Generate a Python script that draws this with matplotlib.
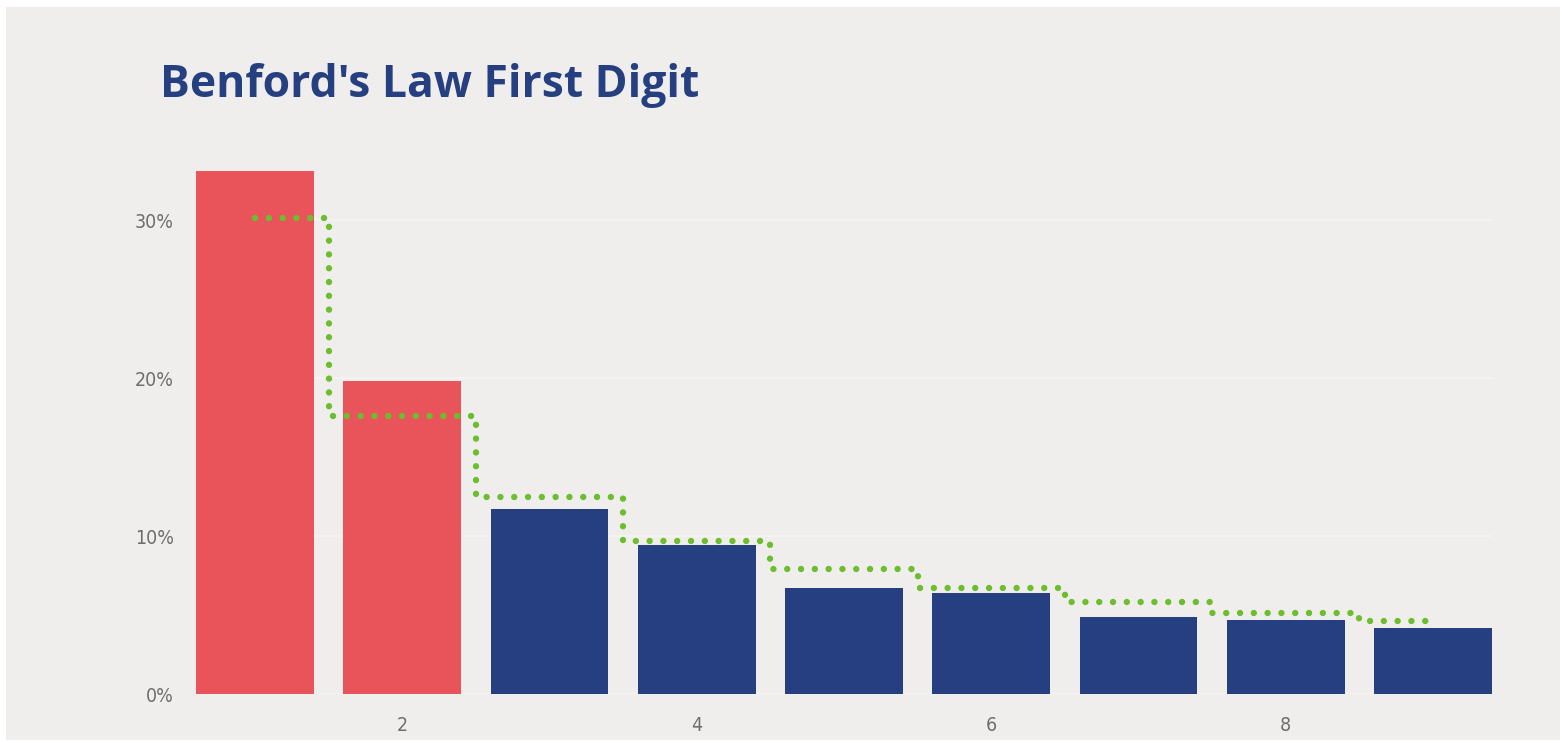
import matplotlib.pyplot as plt
from matplotlib.patches import Rectangle
from matplotlib.ticker import FuncFormatter

# first digit 1..9, observed share (%) and Benford expectation (%)
digits = [1, 2, 3, 4, 5, 6, 7, 8, 9]
observed = [33.1, 19.8, 11.7, 9.4, 6.7, 6.4, 4.9, 4.7, 4.2]
benford = [30.1, 17.6, 12.5, 9.7, 7.9, 6.7, 5.8, 5.1, 4.6]
highlight = [True, True, False, False, False, False, False, False, False]
x_ticks = [2, 4, 6, 8]
y_ticks = [0, 10, 20, 30]

RED = "#E9535A"
NAVY = "#253F80"
GREEN = "#6CBE2E"
BG = "#F0EEED"

W, H = 1560, 742
fig = plt.figure(figsize=(W / 100, H / 100), dpi=100)
fig.patch.set_facecolor("white")
fig.patches.append(Rectangle((6 / W, 2 / H), 1 - 6 / W, 1 - 9 / H,
                             transform=fig.transFigure, facecolor=BG,
                             edgecolor="none", zorder=-10))

# plot area: 0% at y=694px, ~15.8px per percent
ax = fig.add_axes([196 / W, (H - 694) / H, (1492 - 196) / W, 35 * 15.8 / H])
ax.set_facecolor("none")

colors = [RED if h else NAVY for h in highlight]
ax.bar(digits, observed, width=0.8, color=colors, zorder=2)
ax.plot(digits, benford, drawstyle="steps-mid", color=GREEN, lw=4.6,
        linestyle=(0, (0.01, 2.15)), dash_capstyle="round", zorder=3)

ax.set_xlim(0.6, 9.4)
ax.set_ylim(0, 35)
ax.set_xticks(x_ticks)
ax.set_yticks(y_ticks)
ax.yaxis.set_major_formatter(FuncFormatter(lambda v, p: f"{v:.0f}%"))
ax.grid(axis="y", color="#F6F5F4", lw=1.2, zorder=0)
ax.tick_params(length=0, colors="#6E6E6E", labelsize=14)
ax.tick_params(axis="y", pad=16)
ax.tick_params(axis="x", pad=16)
for lbl in ax.get_xticklabels() + ax.get_yticklabels():
    lbl.set_family("DejaVu Sans")
    lbl.set_fontstretch("condensed")
for s in ax.spines.values():
    s.set_visible(False)

fig.text(160 / W, 1 - 97 / H, "Benford's Law First Digit", color=NAVY,
         fontsize=32, fontweight="bold", family=["Open Sans", "DejaVu Sans"],
         fontstretch="condensed", ha="left", va="baseline")

fig.savefig("out.png", dpi=100, facecolor=fig.get_facecolor())
